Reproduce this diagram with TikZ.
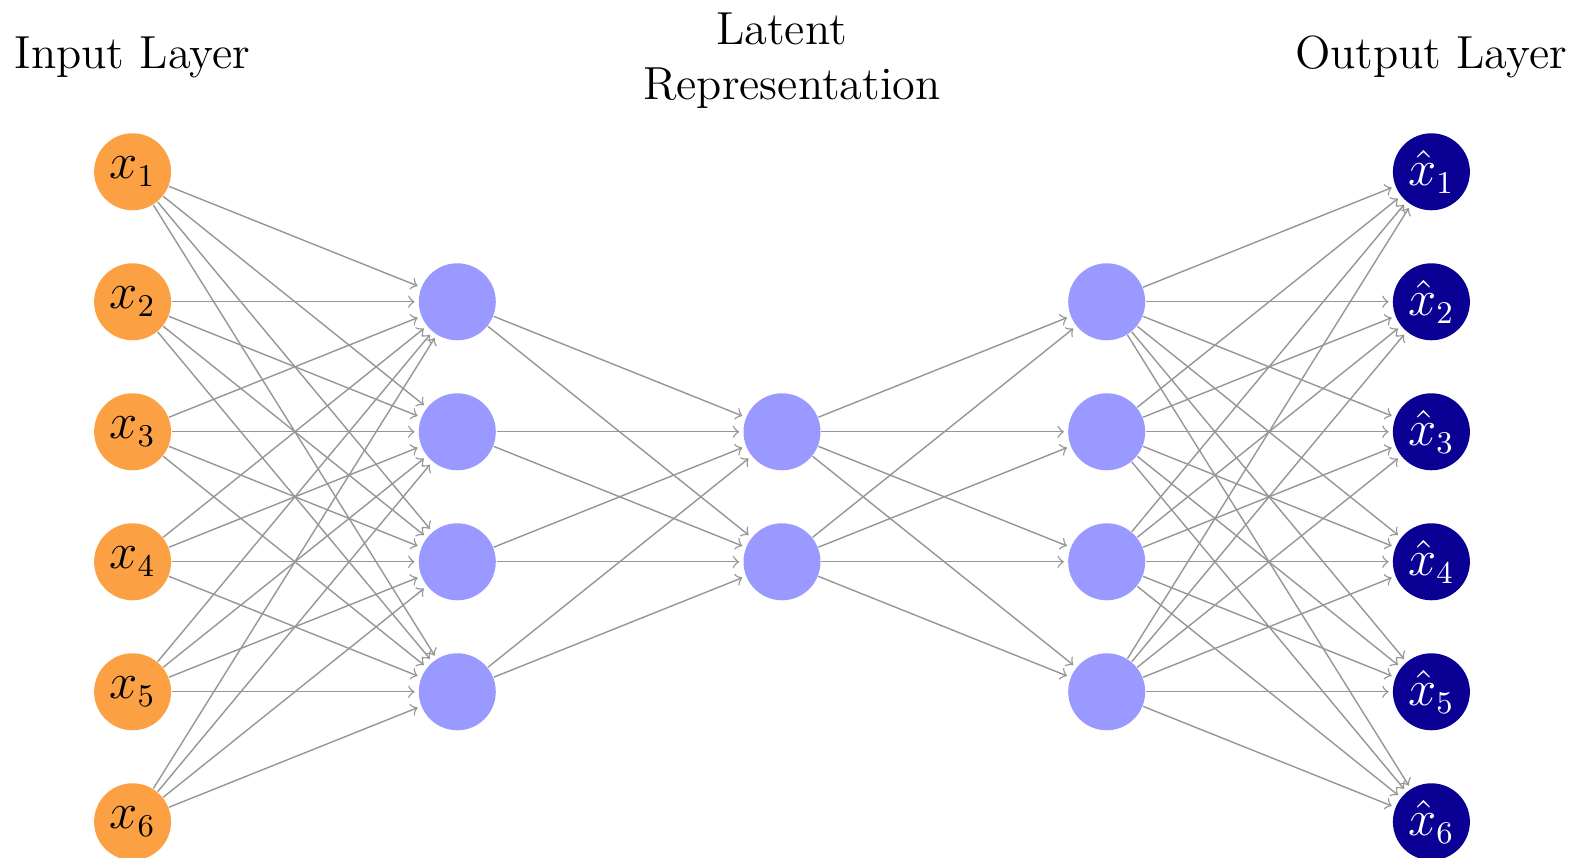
\documentclass[tikz,border=0pt]{standalone}
\definecolor{inorange}{RGB}{251,161,68}
\definecolor{hidblue}{RGB}{153,153,255}
\definecolor{outblue}{RGB}{10,0,148}
\definecolor{linkgray}{RGB}{150,150,150}
\tikzset{
  neuron/.style={circle, minimum size=7.7mm, inner sep=0pt, font=\fontsize{13.5}{16}\selectfont},
  innode/.style={neuron, fill=inorange},
  hidnode/.style={neuron, fill=hidblue},
  outnode/.style={neuron, fill=outblue, text=white},
  link/.style={draw=linkgray, line width=0.4pt, ->, shorten >=1pt},
  layertitle/.style={font=\fontsize{13.2}{15.6}\selectfont, align=center, inner sep=0pt}
}
\begin{document}
\begin{tikzpicture}
  \useasboundingbox (0,0) rectangle (15.75,-8.58);
  \clip (0,0) rectangle (15.75,-8.58);

  % layers
  \foreach \i in {1,...,6}
    \node[innode] (I\i) at (1.326,{-1.718-1.3*(\i-1)}) {$x_{\i}$};
  \foreach \i in {2,...,5}
    \node[hidnode] (H\i) at (4.573,{-1.718-1.3*(\i-1)}) {};
  \foreach \i in {3,4}
    \node[hidnode] (L\i) at (7.82,{-1.718-1.3*(\i-1)}) {};
  \foreach \i in {2,...,5}
    \node[hidnode] (G\i) at (11.067,{-1.718-1.3*(\i-1)}) {};
  \foreach \i in {1,...,6}
    \node[outnode] (O\i) at (14.314,{-1.718-1.3*(\i-1)}) {$\hat{x}_{\i}$};

  % fully connected links
  \foreach \a in {1,...,6}
    \foreach \b in {2,...,5}
      \draw[link] (I\a) -- (H\b);
  \foreach \a in {2,...,5}
    \foreach \b in {3,4}
      \draw[link] (H\a) -- (L\b);
  \foreach \a in {3,4}
    \foreach \b in {2,...,5}
      \draw[link] (L\a) -- (G\b);
  \foreach \a in {2,...,5}
    \foreach \b in {1,...,6}
      \draw[link] (G\a) -- (O\b);

  % titles
  \node[layertitle, anchor=base] (tin) at (1.325,-0.69) {Input Layer};
  \node[layertitle, anchor=north] (tlat) at (7.92,-0.12) {Latent\hspace*{0.21cm}\\Representation};
  \node[layertitle, anchor=base] (tout) at (14.31,-0.69) {Output Layer};
\end{tikzpicture}
\end{document}
